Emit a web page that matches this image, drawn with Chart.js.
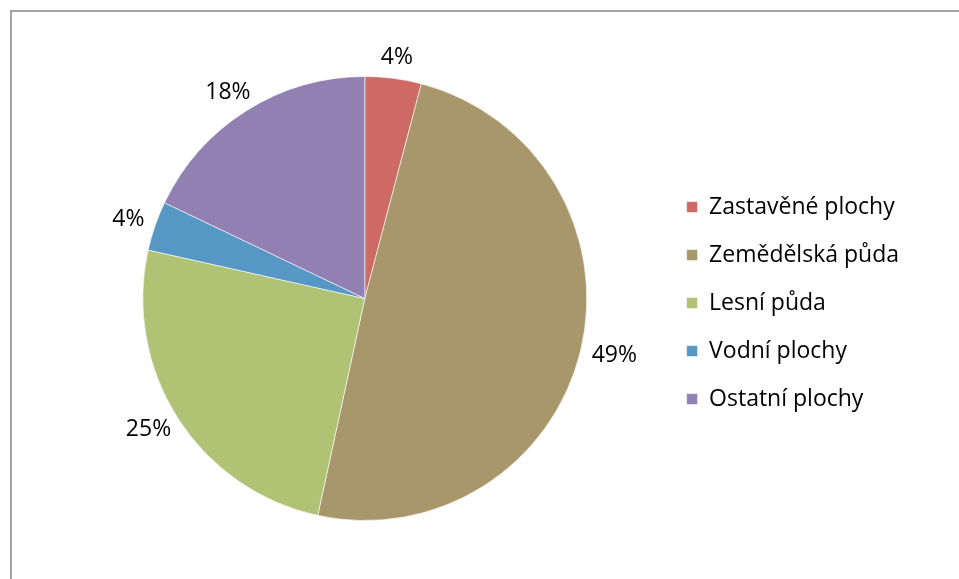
<!DOCTYPE html>
<html>
<head>
<meta charset="utf-8">
<script src="https://cdn.jsdelivr.net/npm/chart.js"></script>
<style>
  html, body { margin: 0; padding: 0; background: #fff; overflow: hidden; }
  #wrap { position: relative; width: 959px; height: 579px; }
  #frame { position: absolute; left: 10px; top: 10px; width: 1000px; height: 700px;
           border-left: 2px solid #a3a3a3; border-top: 2px solid #a3a3a3; }
  canvas { position: absolute; left: 0; top: 0; }
</style>
</head>
<body>
<div id="wrap">
  <div id="frame"></div>
  <canvas id="chart" width="959" height="579"></canvas>
</div>
<script>
const categories = ['Zastavěné plochy', 'Zemědělská půda', 'Lesní půda', 'Vodní plochy', 'Ostatní plochy']
const shares = [4.1, 49.3, 25.1, 3.6, 17.9]
const colors = ['#cd6a64', '#a7976a', '#b0c273', '#5797c6', '#9180b1']

const FONT = 'Open Sans'

// percentage labels outside each slice
const outsideLabels = {
    id: 'outsideLabels',
    afterDatasetsDraw(chart) {
        const ctx = chart.ctx
        const meta = chart.getDatasetMeta(0)
        const total = shares.reduce((a, b) => a + b, 0)
        ctx.save()
        ctx.font = '23px "' + FONT + '"'
        ctx.fillStyle = '#000'
        ctx.textAlign = 'center'
        ctx.textBaseline = 'middle'
        meta.data.forEach((arc, i) => {
            const p = arc.getProps(['x', 'y', 'startAngle', 'endAngle', 'outerRadius'], true)
            const mid = (p.startAngle + p.endAngle) / 2
            const dx = Math.cos(mid), dy = Math.sin(mid)
            const txt = Math.round(shares[i] / total * 100) + '%'
            const w = ctx.measureText(txt).width
            const h = 18
            const r = p.outerRadius + 12
            ctx.fillText(txt, p.x + dx * r + dx * w / 2, p.y + dy * r + dy * h / 2)
        })
        ctx.restore()
    }
}

new Chart(document.getElementById('chart'), {
    type: 'pie',
    data: {
        labels: categories,
        datasets: [{
            data: shares,
            backgroundColor: colors,
            borderColor: 'rgba(255,255,255,0.6)',
            borderWidth: 1
        }]
    },
    options: {
        responsive: false,
        animation: false,
        layout: { padding: { left: 68, top: 76, bottom: 58, right: 50 } },
        plugins: {
            tooltip: { enabled: false },
            legend: {
                position: 'right',
                align: 'center',
                // empty title just to push the items down a little
                title: { display: true, text: ' ', font: { size: 1 }, padding: { top: 0, bottom: 8 } },
                labels: {
                    boxWidth: 11,
                    boxHeight: 11,
                    padding: 25,
                    color: '#000',
                    font: { family: FONT, size: 23 }
                }
            }
        }
    },
    plugins: [outsideLabels]
})
</script>
</body>
</html>
